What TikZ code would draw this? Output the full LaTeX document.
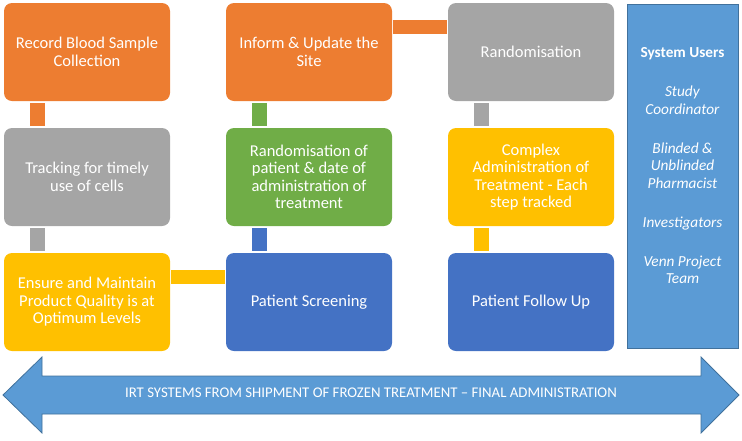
\documentclass[tikz,border=0pt]{standalone}
\usepackage{fontspec}
\setmainfont{Carlito}
\usetikzlibrary{positioning,calc}

\definecolor{offorange}{HTML}{ED7D31}
\definecolor{offgray}{HTML}{A5A5A5}
\definecolor{offyellow}{HTML}{FFC000}
\definecolor{offgreen}{HTML}{70AD47}
\definecolor{offblue}{HTML}{4472C4}
\definecolor{offsky}{HTML}{5B9BD5}
\definecolor{skyline}{HTML}{41719C}

\begin{document}
\begin{tikzpicture}[x=1pt,y=-1pt,
  stepbox/.style={rounded corners=8pt,minimum width=166pt,minimum height=98pt,
    inner sep=0pt,text=white,align=center,font=\fontsize{16.5}{17.5}\selectfont},
  vlink/.style={line width=15pt,shorten <=2pt,shorten >=2pt},
  hlink/.style={line width=14pt,shorten <=1pt,shorten >=1pt}]
  \useasboundingbox (0,0) rectangle (742,440);
  % process steps
  \node[stepbox,fill=offorange] (blood) at (87,52) {Record Blood Sample\\Collection};
  \node[stepbox,fill=offgray] (track) at (87,177) {Tracking for timely\\use of cells};
  \node[stepbox,fill=offyellow] (quality) at (87,302) {Ensure and Maintain\\Product Quality is at\\Optimum Levels};
  \node[stepbox,fill=offorange] (inform) at (309,52) {Inform \& Update the\\Site};
  \node[stepbox,fill=offgreen] (patrand) at (309,177) {Randomisation of\\patient \& date of\\administration of\\treatment};
  \node[stepbox,fill=offblue] (screen) at (309,302) {Patient Screening};
  \node[stepbox,fill=offgray] (rand) at (531,52) {Randomisation};
  \node[stepbox,fill=offyellow] (complex) at (531,177) {Complex\\Administration of\\Treatment - Each\\step tracked};
  \node[stepbox,fill=offblue] (follow) at (531,302) {Patient Follow Up};
  % links
  \draw[vlink,offorange] ([xshift=-50pt]blood.south) -- ([xshift=-50pt]track.north);
  \draw[vlink,offgray] ([xshift=-50pt]track.south) -- ([xshift=-50pt]quality.north);
  \draw[vlink,offgreen] ([xshift=-50pt]inform.south) -- ([xshift=-50pt]patrand.north);
  \draw[vlink,offblue] ([xshift=-50pt]patrand.south) -- ([xshift=-50pt]screen.north);
  \draw[vlink,offgray] ([xshift=-50pt]rand.south) -- ([xshift=-50pt]complex.north);
  \draw[vlink,offyellow] ([xshift=-50pt]complex.south) -- ([xshift=-50pt]follow.north);
  \draw[hlink,offorange] ([yshift=25pt]inform.east) -- ([yshift=25pt]rand.west);
  \draw[hlink,offyellow] ([yshift=25pt]quality.east) -- ([yshift=25pt]screen.west);
  % system users
  \node[draw=skyline,fill=offsky,minimum width=111pt,minimum height=344pt,inner sep=0pt] (users) at (682.5,176) {};
  \node[text=white,align=center,font=\fontsize{15.3}{17.5}\selectfont] (userlist) at (682.5,166)
    {\textbf{System Users}\\[21.5pt]\textit{Study}\\\textit{Coordinator}\\[21.5pt]
     \textit{Blinded \&}\\\textit{Unblinded}\\\textit{Pharmacist}\\[21.5pt]
     \textit{Investigators}\\[21.5pt]\textit{Venn Project}\\\textit{Team}};
  % timeline arrow
  \draw[draw=skyline,fill=offsky,line width=0.8pt] (3,395) -- (42,357) -- (42,376) -- (701,376) -- (701,357)
    -- (739,395) -- (701,433) -- (701,414) -- (42,414) -- (42,433) -- cycle;
  \node[text=white,font=\fontsize{14.8}{16}\selectfont] (irt) at (371,393)
    {IRT SYSTEMS FROM SHIPMENT OF FROZEN TREATMENT -- FINAL ADMINISTRATION};
\end{tikzpicture}
\end{document}
